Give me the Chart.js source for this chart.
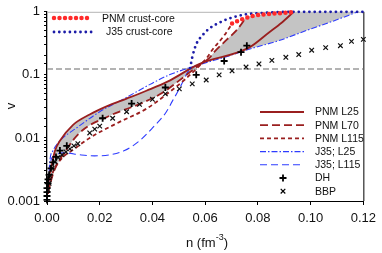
<!DOCTYPE html>
<html>
<head>
<meta charset="utf-8">
<script src="https://cdn.jsdelivr.net/npm/chart.js@4"></script>
<style>
  body { margin: 0; background: #fff; }
  canvas { display: block; }
</style>
</head>
<body>
<canvas id="chart" width="382" height="253"></canvas>
<script>
const FONT = "'Liberation Sans', Arial, sans-serif";

// [n (fm^-3), v]
const pnmL25 = [[0.0003,0.0013],[0.0006,0.0020],[0.0019,0.0039],[0.0030,0.0062],[0.0049,0.0090],[0.0098,0.0160],[0.0162,0.0235],[0.0226,0.0316],[0.0302,0.042],[0.0377,0.056],[0.0457,0.078],[0.0577,0.148],[0.0766,0.27],[0.0842,0.47],[0.0890,0.67],[0.0936,1.0]];
const pnmL70 = [[0.0003,0.0013],[0.0023,0.0027],[0.0068,0.0060],[0.0125,0.0122],[0.0238,0.0225],[0.0362,0.036],[0.0438,0.052],[0.0521,0.094],[0.0577,0.143],[0.0615,0.184],[0.0634,0.229],[0.0683,0.365],[0.0721,0.52],[0.0755,0.81]];
const pnmL115 = [[0.0003,0.0013],[0.0019,0.0026],[0.0049,0.0044],[0.0106,0.0068],[0.0162,0.0100],[0.0264,0.017],[0.0377,0.029],[0.0453,0.049],[0.0521,0.083],[0.0577,0.138],[0.0608,0.19],[0.0626,0.246],[0.0672,0.42],[0.0702,0.65]];
const j35L25 = [[0.0003,0.0013],[0.0011,0.0044],[0.0023,0.0063],[0.0049,0.0090],[0.0113,0.0145],[0.0200,0.026],[0.0306,0.045],[0.0389,0.070],[0.0464,0.100],[0.0566,0.140],[0.0690,0.200],[0.0766,0.255],[0.0880,0.35],[0.0992,0.52],[0.1068,0.67],[0.1180,1.0]];
const j35L115 = [[0.0003,0.0013],[0.0011,0.0036],[0.0026,0.0052],[0.0068,0.0058],[0.0125,0.0054],[0.0180,0.0052],[0.0238,0.0054],[0.0294,0.0063],[0.0351,0.0090],[0.0400,0.0144],[0.0453,0.026],[0.0475,0.038],[0.0502,0.060],[0.0528,0.100],[0.0543,0.128]];
const pnmCrustCore = [[0.0702,0.65],[0.0736,0.75],[0.0758,0.81],[0.0785,0.87],[0.0815,0.90],[0.0849,0.93],[0.0898,0.96],[0.0936,1.0]];
const j35CrustCore = [[0.0543,0.128],[0.0551,0.19],[0.0566,0.305],[0.0589,0.42],[0.0615,0.54],[0.0653,0.67],[0.0690,0.78],[0.0747,0.90],[0.0823,0.96],[0.0917,1.0],[0.1200,1.0]];
const dhPoints = [[0,0.00104],[0,0.0012],[0,0.00138],[0,0.0016],[0.0004,0.0019],[0.0004,0.0022],[0.0008,0.0026],[0.0015,0.0033],[0.0023,0.0041],[0.0034,0.0050],[0.0049,0.0063],[0.0075,0.0075],[0.0211,0.0205],[0.0321,0.035],[0.0449,0.063],[0.0566,0.100],[0.0672,0.166],[0.0736,0.229],[0.0758,0.29]];
const bbpPoints = [[0.0004,0.0015],[0.0008,0.0019],[0.0011,0.0025],[0.0019,0.0033],[0.0030,0.0042],[0.0042,0.0049],[0.0057,0.0054],[0.0072,0.0060],[0.0087,0.0067],[0.0102,0.0075],[0.0117,0.0081],[0.0162,0.012],[0.0181,0.0138],[0.0200,0.0154],[0.0249,0.0205],[0.0302,0.026],[0.0351,0.034],[0.0400,0.041],[0.0449,0.050],[0.0502,0.060],[0.0551,0.072],[0.0604,0.083],[0.0653,0.100],[0.0702,0.116],[0.0755,0.133],[0.0804,0.149],[0.0853,0.17],[0.0906,0.19],[0.0955,0.21],[0.1004,0.246],[0.1057,0.27],[0.1113,0.29],[0.1155,0.34],[0.1200,0.365]];
const threshold = [[0, 0.124],[0.12, 0.124]];

const xTickLabels = ['0.00','0.02','0.04','0.06','0.08','0.10','0.12'];
const yTickLabels = ['0.001','0.01','0.1','1'];

// grey band: upper and lower edges taken from the curves
const bandUpper = [...pnmL25.filter(p => p[0] <= 0.0577), ...pnmL70.filter(p => p[0] > 0.0577), ...pnmCrustCore.filter(p => p[0] > 0.0758), [0.118, 1.0]];
const bandLower = [...pnmL70.filter(p => p[0] <= 0.0577), ...j35L25.filter(p => p[0] > 0.0577)];

const pts = arr => arr.map(([x, y]) => ({x, y}));

const RED = '#9a1f1f';
const BLUE = '#2e3cff';

const styles = {
  pnmL25:  {label: 'PNM L25',   borderColor: RED,  borderWidth: 1.8, borderDash: []},
  pnmL70:  {label: 'PNM L70',   borderColor: RED,  borderWidth: 1.8, borderDash: [8, 4]},
  pnmL115: {label: 'PNM L115',  borderColor: RED,  borderWidth: 1.8, borderDash: [4, 3]},
  j35L25:  {label: 'J35; L25',  borderColor: BLUE, borderWidth: 1.1, borderDash: [6, 2, 1.5, 2]},
  j35L115: {label: 'J35; L115', borderColor: BLUE, borderWidth: 1.1, borderDash: [7, 4]},
  pnmCC:   {label: 'PNM crust-core', borderColor: '#ff2a2a', borderWidth: 4.5, borderDash: [0, 5.5]},
  j35CC:   {label: 'J35 crust-core', borderColor: '#1c1ca8', borderWidth: 2.8, borderDash: [0, 5.3]},
};

const curve = (data, s, extra = {}) => Object.assign({
  data: pts(data), showLine: true, pointRadius: 0, cubicInterpolationMode: 'monotone',
  borderCapStyle: 'butt', fill: false
}, s, extra);

const datasets = [
  curve(pnmCrustCore, styles.pnmCC, {borderCapStyle: 'round', clip: 4}),
  curve(j35CrustCore, styles.j35CC, {borderCapStyle: 'round', clip: 4}),
  {label: 'DH', data: pts(dhPoints), pointStyle: 'cross', pointRadius: 3.5, borderWidth: 1.8, borderColor: '#000', clip: 5},
  {label: 'BBP', data: pts(bbpPoints), pointStyle: 'crossRot', pointRadius: 3.2, borderWidth: 1.2, borderColor: '#111', clip: 5},
  curve(pnmL25, styles.pnmL25),
  curve(pnmL70, styles.pnmL70),
  curve(pnmL115, styles.pnmL115),
  curve(j35L25, styles.j35L25),
  curve(j35L115, styles.j35L115),
  curve(threshold, {borderColor: '#9a9a9a', borderWidth: 1.4, borderDash: [6, 3]}, {cubicInterpolationMode: 'default'}),
  curve(bandUpper, {borderColor: 'transparent', backgroundColor: '#c4c4c4', borderWidth: 1}, {fill: '+1'}),
  curve(bandLower, {borderColor: 'transparent', borderWidth: 1}),
];

const bottomLegend = ['pnmL25', 'pnmL70', 'pnmL115', 'j35L25', 'j35L115'];

const decor = {
  id: 'decor',
  beforeDatasetsDraw(chart) {
    const {ctx, chartArea: a} = chart;
    ctx.save();
    ctx.lineWidth = 1;
    ctx.strokeStyle = '#b5b5b5';
    ctx.beginPath(); ctx.moveTo(a.left, a.top + 0.5); ctx.lineTo(a.right, a.top + 0.5); ctx.stroke();
    ctx.strokeStyle = '#000';
    ctx.beginPath(); ctx.moveTo(a.right + 0.5, a.top); ctx.lineTo(a.right + 0.5, a.bottom); ctx.stroke();
    ctx.restore();
  },
  afterDraw(chart) {
    const {ctx} = chart;
    ctx.save();
    ctx.textBaseline = 'middle';
    ctx.fillStyle = '#111';
    ctx.font = '10.5px ' + FONT;

    const sample = (s, x0, x1, y, cap) => {
      ctx.save();
      ctx.strokeStyle = s.borderColor;
      ctx.lineWidth = s.borderWidth;
      ctx.setLineDash(s.borderDash);
      ctx.lineCap = cap || 'butt';
      ctx.beginPath(); ctx.moveTo(x0, y); ctx.lineTo(x1, y); ctx.stroke();
      ctx.restore();
    };

    // top-left legend
    sample(styles.pnmCC, 54, 92, 18, 'round');
    ctx.fillText(styles.pnmCC.label, 102, 19);
    sample(styles.j35CC, 54, 96, 32, 'round');
    ctx.fillText(styles.j35CC.label, 106, 32);

    // lower-right legend
    bottomLegend.forEach((k, i) => {
      const y = 112 + i * 13.2;
      sample(styles[k], 260, 304, y);
      ctx.fillText(styles[k].label, 315, y + 0.5);
    });
    let y = 112 + 5 * 13.2;
    ctx.strokeStyle = '#000';
    ctx.lineWidth = 1.8;
    ctx.beginPath(); ctx.moveTo(283 - 3.5, y); ctx.lineTo(283 + 3.5, y); ctx.moveTo(283, y - 3.5); ctx.lineTo(283, y + 3.5); ctx.stroke();
    ctx.fillText('DH', 315, y + 0.5);
    y += 13.2;
    ctx.lineWidth = 1.2;
    ctx.beginPath(); ctx.moveTo(280.7, y - 2.3); ctx.lineTo(285.3, y + 2.3); ctx.moveTo(280.7, y + 2.3); ctx.lineTo(285.3, y - 2.3); ctx.stroke();
    ctx.fillText('BBP', 315, y + 0.5);

    // axis titles
    ctx.font = '13px ' + FONT;
    ctx.textBaseline = 'alphabetic';
    const main = 'n (fm', sup = '-3', close = ')';
    const w1 = ctx.measureText(main).width;
    ctx.font = '9px ' + FONT;
    const w2 = ctx.measureText(sup).width;
    ctx.font = '13px ' + FONT;
    const w3 = ctx.measureText(close).width;
    let x = 207 - (w1 + w2 + w3) / 2;
    ctx.fillText(main, x, 247);
    ctx.font = '9px ' + FONT;
    ctx.fillText(sup, x + w1, 240);
    ctx.font = '13px ' + FONT;
    ctx.fillText(close, x + w1 + w2, 247);

    ctx.translate(11, 106);
    ctx.rotate(-Math.PI / 2);
    ctx.textAlign = 'center';
    ctx.textBaseline = 'middle';
    ctx.fillText('v', 0, 0);
    ctx.restore();
  }
};

new Chart(document.getElementById('chart'), {
  type: 'scatter',
  data: {datasets},
  plugins: [decor],
  options: {
    responsive: false,
    animation: false,
    events: [],
    layout: {padding: {top: 9, right: 16, left: 0, bottom: 0}},
    plugins: {legend: {display: false}, tooltip: {enabled: false}},
    scales: {
      x: {
        type: 'linear', min: 0, max: 0.12,
        afterFit: s => { s.height = 52; },
        ticks: {
          stepSize: 0.02, padding: 6, color: '#111',
          font: {family: FONT, size: 13},
          callback: v => xTickLabels[Math.round(v / 0.02)]
        },
        grid: {drawOnChartArea: false, tickLength: 4, color: '#000'},
        border: {color: '#000', width: 1}
      },
      y: {
        type: 'logarithmic', min: 0.001, max: 1,
        afterFit: s => { s.width = 47; },
        ticks: {
          autoSkip: false, padding: 4, color: '#111',
          font: {family: FONT, size: 13},
          callback: v => {
            const e = Math.log10(v);
            return Math.abs(e - Math.round(e)) < 1e-6 ? yTickLabels[Math.round(e) + 3] : '';
          }
        },
        grid: {drawOnChartArea: false, tickLength: 3, color: '#000'},
        border: {color: '#000', width: 1.3}
      }
    }
  }
});
</script>
</body>
</html>
